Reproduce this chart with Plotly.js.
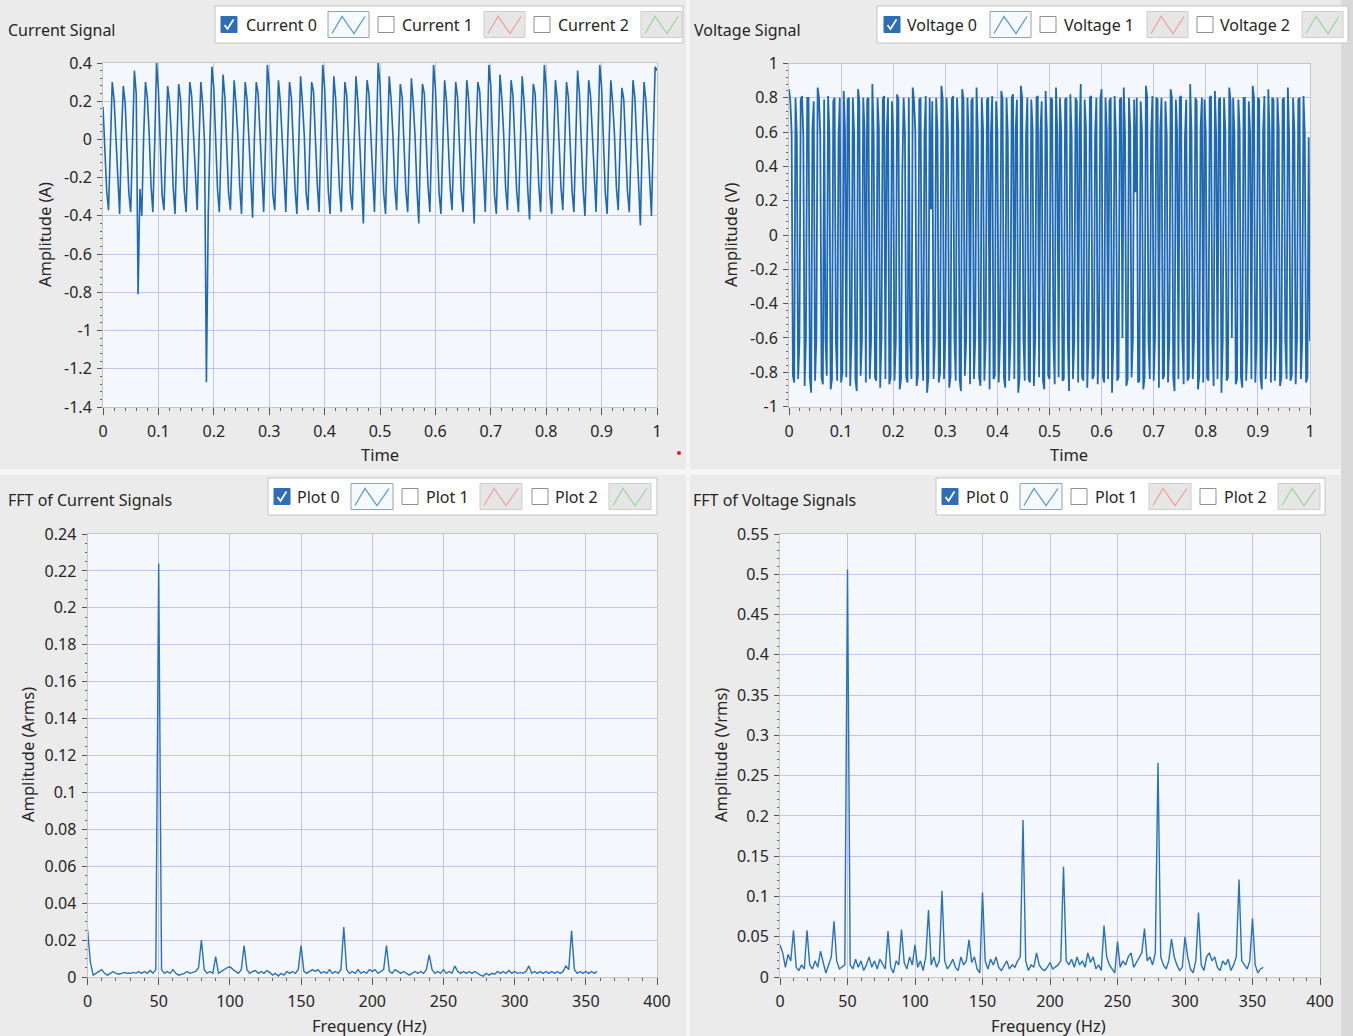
<!DOCTYPE html>
<html>
<head>
<meta charset="utf-8">
<script src="https://cdn.plot.ly/plotly-3.0.1.min.js"></script>
<style>html,body{margin:0;padding:0;background:#ebebeb;}#chart{width:1353px;height:1036px;}</style>
</head>
<body>
<div id="chart"></div>
<script>
// ---------------- DATA ----------------
// Current signal, waveform t0 = 0 s, dt = 1/300 s
const currentDt = 1 / 300;
const currentY = [
 0.17,-0.02,-0.27,-0.37,-0.03,0.30,
 0.21,0.01,-0.25,-0.39,0.02,0.28,
 0.19,-0.04,-0.28,-0.38,-0.01,0.36,
 0.24,-0.81,-0.26,-0.40,0.01,0.30,
 0.22,0.03,-0.24,-0.38,-0.02,0.40,
 0.26,-0.01,-0.29,-0.37,0.02,0.28,
 0.20,0.02,-0.25,-0.39,-0.02,0.29,
 0.21,-0.03,-0.27,-0.38,0.01,0.30,
 0.23,0.01,-0.23,-0.37,-0.01,0.30,
 0.18,-0.02,-1.27,-0.39,0.03,0.38,
 0.27,0.00,-0.26,-0.38,-0.02,0.34,
 0.22,-0.03,-0.28,-0.37,0.02,0.31,
 0.19,0.02,-0.24,-0.39,-0.01,0.30,
 0.21,-0.01,-0.27,-0.41,0.01,0.30,
 0.24,0.03,-0.25,-0.38,-0.03,0.39,
 0.28,-0.02,-0.29,-0.37,0.02,0.31,
 0.20,0.01,-0.24,-0.38,-0.01,0.30,
 0.22,-0.02,-0.26,-0.39,0.02,0.33,
 0.19,0.02,-0.28,-0.37,-0.02,0.30,
 0.25,-0.01,-0.23,-0.38,0.01,0.39,
 0.27,0.03,-0.27,-0.39,-0.01,0.33,
 0.21,-0.02,-0.25,-0.38,0.02,0.30,
 0.23,0.01,-0.28,-0.37,-0.02,0.33,
 0.20,-0.03,-0.26,-0.44,0.01,0.31,
 0.24,0.02,-0.24,-0.38,-0.01,0.40,
 0.29,-0.01,-0.28,-0.39,0.03,0.33,
 0.21,0.02,-0.25,-0.37,-0.02,0.29,
 0.22,-0.02,-0.27,-0.38,0.01,0.32,
 0.19,0.01,-0.26,-0.44,-0.01,0.29,
 0.24,-0.01,-0.24,-0.38,0.02,0.39,
 0.27,0.02,-0.28,-0.39,-0.02,0.31,
 0.20,-0.02,-0.25,-0.37,0.01,0.30,
 0.22,0.01,-0.27,-0.38,-0.01,0.31,
 0.21,-0.03,-0.26,-0.44,0.02,0.30,
 0.25,0.02,-0.23,-0.38,-0.02,0.39,
 0.28,-0.01,-0.29,-0.39,0.01,0.34,
 0.21,0.02,-0.25,-0.37,-0.01,0.31,
 0.23,-0.02,-0.27,-0.38,0.02,0.33,
 0.20,0.01,-0.26,-0.42,-0.02,0.29,
 0.24,-0.01,-0.24,-0.38,0.01,0.39,
 0.27,0.03,-0.28,-0.39,-0.01,0.31,
 0.21,-0.02,-0.25,-0.37,0.02,0.30,
 0.22,0.01,-0.27,-0.38,-0.02,0.36,
 0.24,-0.02,-0.26,-0.40,0.01,0.31,
 0.23,0.02,-0.24,-0.38,-0.01,0.39,
 0.27,-0.01,-0.28,-0.39,0.02,0.31,
 0.19,0.02,-0.25,-0.37,-0.02,0.27,
 0.21,-0.02,-0.27,-0.38,0.01,0.31,
 0.22,0.01,-0.26,-0.45,-0.01,0.30,
 0.20,-0.01,-0.24,-0.40,0.02,0.38,
 0.36
];

// Voltage signal, waveform t0 = 0 s, dt = 0.0025 s
const voltageDt = 0.0025;
const voltageY = [
 0.85,0.78,0.60,-0.82,-0.86,0.80,0.58,-0.84,-0.62,0.79,
 0.81,0.57,-0.88,-0.60,0.80,0.80,-0.83,-0.92,0.62,0.78,
 -0.85,-0.61,0.86,0.80,0.58,-0.83,-0.87,0.79,-0.60,-0.82,
 0.81,0.60,-0.90,-0.84,0.78,0.80,-0.62,-0.85,0.57,0.80,
 -0.86,-0.80,0.84,0.61,-0.83,0.79,0.80,-0.88,-0.60,0.80,
 0.59,-0.84,-0.91,0.85,0.78,-0.82,-0.61,0.80,0.60,-0.86,
 0.79,0.80,-0.84,-0.62,0.88,0.58,-0.83,-0.85,0.80,0.62,
 -0.89,-0.60,0.79,0.81,-0.84,0.57,0.80,-0.87,-0.83,0.78,
 0.60,-0.85,-0.62,0.82,0.79,-0.90,-0.84,0.35,0.80,0.59,
 -0.83,-0.86,0.80,-0.61,-0.84,0.86,0.78,0.60,-0.88,-0.82,
 0.79,0.80,-0.60,-0.85,0.58,0.81,-0.92,-0.83,0.80,0.15,
 0.78,-0.84,-0.62,0.80,0.60,-0.86,-0.80,0.87,0.79,-0.84,
 -0.61,0.80,0.58,-0.89,-0.83,0.79,0.81,-0.60,-0.85,0.80,
 0.62,-0.84,-0.91,0.85,0.79,-0.82,-0.62,0.80,0.57,-0.87,
 0.78,0.80,-0.84,-0.60,0.86,0.59,-0.83,-0.88,0.80,0.61,
 -0.85,-0.62,0.79,0.80,-0.90,0.58,0.81,-0.84,-0.82,0.78,
 0.60,-0.86,-0.61,0.84,0.79,-0.83,-0.89,0.80,0.57,-0.85,
 -0.62,0.80,0.82,-0.84,0.60,0.79,-0.92,-0.83,0.87,0.80,
 -0.60,-0.85,0.58,0.80,-0.84,-0.86,0.79,0.62,-0.88,-0.61,
 0.80,0.81,-0.83,0.59,0.78,-0.85,-0.90,0.84,0.60,-0.82,
 -0.84,0.80,0.79,-0.62,-0.87,0.86,0.58,-0.83,0.80,0.61,
 -0.85,-0.84,0.79,0.80,-0.60,-0.91,0.82,0.57,-0.84,-0.62,
 0.80,0.78,-0.86,0.60,0.88,-0.83,-0.85,0.79,0.62,-0.89,
 -0.60,0.80,0.81,-0.84,-0.82,0.58,0.80,-0.87,-0.61,0.79,
 0.85,-0.83,-0.86,0.80,0.60,-0.84,0.78,0.80,-0.92,-0.62,
 0.81,0.57,-0.85,-0.83,0.79,0.80,-0.60,0.86,0.59,-0.88,
 -0.84,0.80,0.62,-0.83,-0.61,0.79,0.25,0.80,-0.86,-0.85,
 0.78,0.60,-0.90,-0.83,0.87,0.80,-0.62,-0.84,0.58,0.81,
 -0.85,-0.60,0.80,0.79,-0.89,0.61,0.80,-0.84,-0.82,0.78,
 0.58,-0.86,-0.61,0.85,0.80,-0.83,-0.91,0.79,0.60,-0.84,
 0.80,0.81,-0.62,-0.87,0.57,0.79,-0.85,-0.83,0.88,0.60,
 -0.84,-0.60,0.80,0.78,-0.90,-0.82,0.62,0.80,-0.86,0.79,
 0.59,-0.83,-0.85,0.80,0.81,-0.61,-0.88,0.84,0.57,-0.84,
 0.79,0.80,-0.92,-0.62,0.80,0.60,-0.85,-0.83,0.86,0.78,
 -0.60,0.80,0.58,-0.87,-0.84,0.79,0.61,-0.83,-0.89,0.80,
 0.80,-0.85,-0.62,0.78,0.59,-0.84,0.87,0.80,-0.86,-0.61,
 0.80,0.79,-0.83,-0.90,0.60,0.81,-0.84,-0.62,0.85,0.58,
 -0.86,0.80,0.79,-0.85,-0.60,0.80,0.62,-0.88,-0.83,0.79,
 0.80,-0.61,-0.84,0.86,0.57,-0.85,-0.82,0.80,0.60,-0.87,
 -0.60,0.79,0.80,-0.84,-0.62,0.81,0.58,-0.86,-0.83,0.57,
 -0.62
];

// FFT spectra, f0 = 0 Hz, df = 2 Hz (0 ... 358 Hz)
const fftDf = 2;
const fftCurrent = [
 0.026,0.008,0.001,0.002,0.003,0.004,0.002,0.001,0.002,0.003,
 0.002,0.0015,0.002,0.0025,0.002,0.002,0.0025,0.002,0.003,0.002,
 0.003,0.002,0.0035,0.002,0.004,0.224,0.004,0.002,0.003,0.002,
 0.004,0.002,0.001,0.0015,0.002,0.003,0.002,0.0025,0.003,0.005,
 0.020,0.004,0.002,0.003,0.002,0.011,0.002,0.003,0.004,0.005,
 0.0055,0.004,0.003,0.002,0.004,0.017,0.004,0.002,0.003,0.0035,
 0.002,0.003,0.002,0.0035,0.0025,0.001,0.002,0.0005,0.002,0.001,
 0.003,0.002,0.003,0.002,0.004,0.017,0.003,0.002,0.003,0.004,
 0.003,0.004,0.002,0.003,0.002,0.004,0.002,0.003,0.002,0.004,
 0.027,0.004,0.002,0.003,0.002,0.004,0.002,0.003,0.002,0.004,
 0.003,0.004,0.002,0.003,0.004,0.017,0.003,0.002,0.004,0.003,
 0.002,0.003,0.002,0.001,0.002,0.003,0.002,0.003,0.002,0.004,
 0.012,0.004,0.002,0.003,0.002,0.004,0.002,0.003,0.002,0.006,
 0.003,0.002,0.003,0.002,0.003,0.002,0.003,0.002,0.001,0.0005,
 0.002,0.001,0.002,0.0015,0.003,0.002,0.003,0.002,0.0035,0.002,
 0.003,0.002,0.0025,0.002,0.003,0.006,0.002,0.003,0.002,0.003,
 0.002,0.003,0.002,0.003,0.002,0.003,0.002,0.003,0.006,0.004,
 0.025,0.004,0.002,0.003,0.002,0.003,0.002,0.003,0.002,0.003
];
const fftVoltage = [
 0.040,0.030,0.012,0.028,0.020,0.058,0.012,0.008,0.015,0.010,
 0.058,0.015,0.010,0.020,0.012,0.032,0.018,0.005,0.015,0.025,
 0.069,0.020,0.010,0.012,0.015,0.506,0.015,0.010,0.022,0.012,
 0.020,0.008,0.015,0.025,0.012,0.020,0.010,0.022,0.015,0.010,
 0.057,0.012,0.005,0.020,0.015,0.059,0.018,0.010,0.025,0.015,
 0.040,0.012,0.020,0.008,0.025,0.083,0.015,0.025,0.012,0.020,
 0.107,0.020,0.010,0.015,0.022,0.012,0.008,0.025,0.015,0.020,
 0.046,0.018,0.025,0.010,0.005,0.105,0.020,0.010,0.022,0.015,
 0.025,0.012,0.008,0.015,0.020,0.010,0.015,0.012,0.020,0.025,
 0.195,0.020,0.008,0.015,0.012,0.030,0.015,0.010,0.008,0.012,
 0.018,0.010,0.012,0.015,0.020,0.137,0.020,0.015,0.022,0.012,
 0.025,0.015,0.020,0.012,0.030,0.018,0.025,0.010,0.015,0.008,
 0.064,0.025,0.015,0.010,0.005,0.044,0.012,0.020,0.015,0.025,
 0.030,0.012,0.018,0.025,0.030,0.060,0.020,0.025,0.015,0.030,
 0.266,0.025,0.015,0.010,0.020,0.047,0.025,0.015,0.008,0.012,
 0.050,0.025,0.010,0.005,0.020,0.080,0.015,0.008,0.025,0.030,
 0.020,0.025,0.012,0.008,0.020,0.015,0.022,0.008,0.015,0.025,
 0.121,0.020,0.015,0.010,0.020,0.073,0.015,0.005,0.010,0.012
];

// Tick labels
const tickCurrentVals = [0.4,0.2,0,-0.2,-0.4,-0.6,-0.8,-1,-1.2,-1.4];
const tickCurrentText = ['0.4','0.2','0','-0.2','-0.4','-0.6','-0.8','-1','-1.2','-1.4'];
const tickVoltVals = [1,0.8,0.6,0.4,0.2,0,-0.2,-0.4,-0.6,-0.8,-1];
const tickVoltText = ['1','0.8','0.6','0.4','0.2','0','-0.2','-0.4','-0.6','-0.8','-1'];
const tickTimeVals = [0,0.1,0.2,0.3,0.4,0.5,0.6,0.7,0.8,0.9,1];
const tickTimeText = ['0','0.1','0.2','0.3','0.4','0.5','0.6','0.7','0.8','0.9','1'];
const tickFreqVals = [0,50,100,150,200,250,300,350,400];
const tickFreqText = ['0','50','100','150','200','250','300','350','400'];
const tickArmsVals = [0,0.02,0.04,0.06,0.08,0.1,0.12,0.14,0.16,0.18,0.2,0.22,0.24];
const tickArmsText = ['0','0.02','0.04','0.06','0.08','0.1','0.12','0.14','0.16','0.18','0.2','0.22','0.24'];
const tickVrmsVals = [0,0.05,0.1,0.15,0.2,0.25,0.3,0.35,0.4,0.45,0.5,0.55];
const tickVrmsText = ['0','0.05','0.1','0.15','0.2','0.25','0.3','0.35','0.4','0.45','0.5','0.55'];

// Legend labels
const legendCurrent = ['Current 0','Current 1','Current 2'];
const legendVoltage = ['Voltage 0','Voltage 1','Voltage 2'];
const legendPlot = ['Plot 0','Plot 1','Plot 2'];

// ---------------- LAYOUT HELPERS ----------------
const W = 1353, H = 1036;
const fx = x => x / W;
const fy = y => 1 - y / H;
const FONT = 'Noto Sans, Open Sans, sans-serif';
const TXT = '#262626';
const LINE = '#1f69b3';
const GRID = '#c2c2ea';

function xAxis(dom, range, vals, text, minorDt) {
  return {
    domain: dom, range: range, autorange: false, fixedrange: true,
    tickmode: 'array', tickvals: vals, ticktext: text,
    showgrid: true, gridcolor: GRID, gridwidth: 1, zeroline: false,
    showline: true, linecolor: '#c6c6c6', linewidth: 1, mirror: true,
    ticks: 'outside', ticklen: 7, tickwidth: 1, tickcolor: '#555',
    ticklabelstandoff: 3,
    minor: {tickmode: 'linear', tick0: 0, dtick: minorDt, ticks: 'outside', ticklen: 3, tickcolor: '#666', showgrid: false},
    tickfont: {family: FONT, size: 16, color: TXT}
  };
}
function yAxis(dom, range, vals, text, minorDt) {
  const a = xAxis(dom, range, vals, text, minorDt);
  a.ticklen = 5; a.ticklabelstandoff = 2;
  a.minor.ticklen = 2;
  return a;
}

const shapes = [];
const annotations = [];

function rect(x0, y0, x1, y1, fill, line, lw) {
  shapes.push({type: 'rect', xref: 'paper', yref: 'paper', x0: fx(x0), x1: fx(x1), y0: fy(y1), y1: fy(y0),
    fillcolor: fill, line: {color: line, width: lw === undefined ? 1 : lw}, layer: 'above'});
}
function path(pts, color, width) {
  const d = pts.map((p, i) => (i ? 'L ' : 'M ') + fx(p[0]) + ' ' + fy(p[1])).join(' ');
  shapes.push({type: 'path', xref: 'paper', yref: 'paper', path: d, line: {color: color, width: width}, layer: 'above'});
}
function text(t, x, y, opts) {
  annotations.push(Object.assign({text: t, xref: 'paper', yref: 'paper', x: fx(x), y: fy(y), showarrow: false,
    xanchor: 'left', yanchor: 'middle', font: {family: FONT, size: 16, color: TXT}}, opts || {}));
}

const iconColors = ['#5b9bd5', '#f2a1a1', '#9ed69e'];
function legend(box, labels, cbx, txx, icx, icw) {
  rect(box[0], box[1], box[2], box[3], '#ffffff', '#c4c4c4', 1);
  const cy = (box[1] + box[3]) / 2;
  labels.forEach((lab, i) => {
    const on = i === 0;
    const c = cbx[i];
    rect(c, cy - 8, c + 16, cy + 8, on ? '#2f6eb5' : '#ffffff', on ? '#2f6eb5' : '#8f8f8f', 1);
    if (on) path([[c + 3.5, cy + 0.5], [c + 6.5, cy + 4.5], [c + 12.5, cy - 5]], '#ffffff', 1.8);
    text(lab, txx[i], cy + 0.5, {font: {family: FONT, size: 16, color: TXT}});
    const ic = icx[i];
    rect(ic, cy - 13, ic + icw, cy + 13, on ? '#f6f9fd' : '#e6e6e6', on ? '#8ea2b6' : '#cdcdcd', 1);
    path([[ic + 4, cy + 9], [ic + 14, cy - 8], [ic + 26, cy + 9], [ic + icw - 4, cy - 8]], iconColors[i], 1.3);
  });
}

// Panel separators / frame
rect(686, 0, 690, 1036, '#f5f5f5', '#f5f5f5', 0);
rect(0, 469, 1353, 475, '#f5f5f5', '#f5f5f5', 0);
rect(1341, 0, 1353, 1036, '#d9d9d9', '#d9d9d9', 0);

// Legends
legend([215, 6, 683, 43], legendCurrent, [221, 378, 534], [244, 400, 556], [328, 484, 641], 41);
legend([877, 6, 1348, 43], legendVoltage, [884, 1040, 1197], [905, 1062, 1218], [990, 1147, 1302], 41);
legend([268, 478, 657, 515], legendPlot, [274, 402, 532], [295, 424, 553], [351, 480, 609], 42);
legend([936, 478, 1325, 515], legendPlot, [942, 1071, 1200], [964, 1093, 1222], [1020, 1149, 1278], 42);

// Panel titles
text('Current Signal', 6, 30);
text('Voltage Signal', 692, 30);
text('FFT of Current Signals', 6, 500);
text('FFT of Voltage Signals', 691, 500);

// Axis titles
const ctr = {xanchor: 'center', yanchor: 'middle'};
const tf = {font: {family: FONT, size: 16.5, color: TXT}};
text('Amplitude (A)', 44, 235, Object.assign({textangle: -90}, ctr, tf));
text('Time', 380, 454, Object.assign({}, ctr, tf));
text('Amplitude (V)', 730, 235, Object.assign({textangle: -90}, ctr, tf));
text('Time', 1069, 454, Object.assign({}, ctr, tf));
text('Amplitude (Arms)', 27, 755, Object.assign({textangle: -90}, ctr, tf));
text('Frequency (Hz)', 370, 1025, Object.assign({}, ctr, tf));
text('Amplitude (Vrms)', 720, 755, Object.assign({textangle: -90}, ctr, tf));
text('Frequency (Hz)', 1048, 1025, Object.assign({}, ctr, tf));

// small red indicator dot
shapes.push({type: 'circle', xref: 'paper', yref: 'paper', x0: fx(677), x1: fx(681), y0: fy(455), y1: fy(451),
  fillcolor: '#e02020', line: {color: '#e02020', width: 0}, layer: 'above'});

// ---------------- TRACES ----------------
const traces = [
  {type: 'scatter', mode: 'lines', y: currentY, x0: 0, dx: currentDt, xaxis: 'x', yaxis: 'y',
   line: {color: LINE, width: 1.6}, hoverinfo: 'skip', showlegend: false},
  {type: 'scatter', mode: 'lines', y: voltageY, x0: 0, dx: voltageDt, xaxis: 'x2', yaxis: 'y2',
   line: {color: LINE, width: 1.8}, hoverinfo: 'skip', showlegend: false},
  {type: 'scatter', mode: 'lines', y: fftCurrent, x0: 0, dx: fftDf, xaxis: 'x3', yaxis: 'y3',
   line: {color: '#2a71b8', width: 1.4}, hoverinfo: 'skip', showlegend: false},
  {type: 'scatter', mode: 'lines', y: fftVoltage, x0: 0, dx: fftDf, xaxis: 'x4', yaxis: 'y4',
   line: {color: '#2a71b8', width: 1.4}, hoverinfo: 'skip', showlegend: false}
];

const layout = {
  width: W, height: H, autosize: false,
  margin: {l: 0, r: 0, t: 0, b: 0, pad: 0},
  paper_bgcolor: '#ebebeb', plot_bgcolor: '#f4f8fd',
  showlegend: false,
  font: {family: FONT, size: 16, color: TXT},
  xaxis:  Object.assign(xAxis([fx(103), fx(657)], [0, 1], tickTimeVals, tickTimeText, 0.02), {anchor: 'y'}),
  yaxis:  Object.assign(yAxis([fy(407), fy(63)], [-1.4, 0.4], tickCurrentVals, tickCurrentText, 0.04), {anchor: 'x'}),
  xaxis2: Object.assign(xAxis([fx(789), fx(1310)], [0, 1], tickTimeVals, tickTimeText, 0.02), {anchor: 'y2'}),
  yaxis2: Object.assign(yAxis([fy(406.5), fy(63.5)], [-1, 1], tickVoltVals, tickVoltText, 0.04), {anchor: 'x2'}),
  xaxis3: Object.assign(xAxis([fx(87.5), fx(657)], [0, 400], tickFreqVals, tickFreqText, 10), {anchor: 'y3'}),
  yaxis3: Object.assign(yAxis([fy(977), fy(534)], [0, 0.24], tickArmsVals, tickArmsText, 0.005), {anchor: 'x3'}),
  xaxis4: Object.assign(xAxis([fx(780), fx(1320)], [0, 400], tickFreqVals, tickFreqText, 10), {anchor: 'y4'}),
  yaxis4: Object.assign(yAxis([fy(977), fy(534)], [0, 0.55], tickVrmsVals, tickVrmsText, 0.01), {anchor: 'x4'}),
  shapes: shapes,
  annotations: annotations
};

Plotly.newPlot('chart', traces, layout, {displayModeBar: false, staticPlot: true});
</script>
</body>
</html>
